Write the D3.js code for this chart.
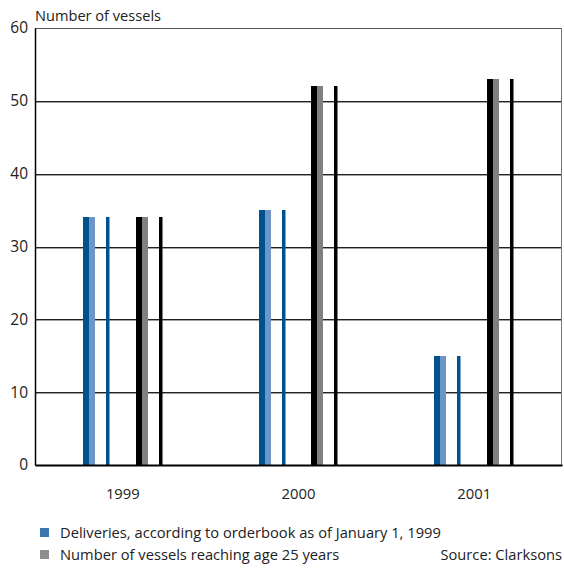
<!DOCTYPE html>
<html>
<head>
<meta charset="utf-8">
<script src="https://cdn.jsdelivr.net/npm/d3@7"></script>
<style>
  html, body { margin: 0; padding: 0; background: #fff; overflow: hidden; }
  svg { display: block; font-family: "Open Sans", "Noto Sans", sans-serif; }
</style>
</head>
<body>
<svg id="chart" width="564" height="568"></svg>
<script>
// Categories and series
const years = ["1999", "2000", "2001"];
const seriesNames = [
  "Deliveries, according to orderbook as of January 1, 1999",
  "Number of vessels reaching age 25 years"
];
const deliveries = [34, 35, 15];
const reachingAge25 = [34, 52, 53];
const yTicks = [0, 10, 20, 30, 40, 50, 60];
const sourceText = "Source: Clarksons";
const yTitle = "Number of vessels";

const values = [deliveries, reachingAge25];

// Styling per series: face colour, side colour, legend colour
const styles = [
  { front: "#00528e", side: "#6f95c6", legend: "#3b76ad" },
  { front: "#000000", side: "#808080", legend: "#8d8d8d" }
];

const W = 564, H = 568;
const margin = { left: 35, top: 28, right: 2, bottom: 103 };
const plotR = W - margin.right, plotB = H - margin.bottom;
const fontFam = "'Open Sans', 'Noto Sans', sans-serif";

const svg = d3.select("#chart");

const x = d3.scaleBand().domain(years).range([margin.left, plotR]).padding(0);
const y = d3.scaleLinear().domain([0, 60]).range([plotB, margin.top]);
// Series offsets within each year band, relative to band centre
const xs = d3.scaleBand().domain(d3.range(seriesNames.length)).range([-40, 40]).paddingInner(0.49);

// Horizontal grid lines: dark line with a grey shadow line below
const gridVals = yTicks.filter(t => t > 0 && t < 60);
const grid = svg.append("g");
grid.selectAll("line.shadow").data(gridVals).join("line")
  .attr("class", "shadow")
  .attr("x1", margin.left).attr("x2", plotR)
  .attr("y1", d => Math.round(y(d)) + 1.5).attr("y2", d => Math.round(y(d)) + 1.5)
  .attr("stroke", "#a0a0a0").attr("stroke-width", 1);
grid.selectAll("line.main").data(gridVals).join("line")
  .attr("class", "main")
  .attr("x1", margin.left).attr("x2", plotR)
  .attr("y1", d => Math.round(y(d)) + 0.5).attr("y2", d => Math.round(y(d)) + 0.5)
  .attr("stroke", "#222").attr("stroke-width", 1);

// Frame: top and right borders
svg.append("line")
  .attr("x1", margin.left).attr("x2", plotR)
  .attr("y1", Math.round(y(60)) + 0.5).attr("y2", Math.round(y(60)) + 0.5)
  .attr("stroke", "#555").attr("stroke-width", 1);
svg.append("line")
  .attr("x1", plotR - 0.5).attr("x2", plotR - 0.5)
  .attr("y1", y(60)).attr("y2", plotB)
  .attr("stroke", "#777").attr("stroke-width", 1);

// Bars: front face, side face and a thin back edge
const segs = [
  { key: "front", x0: 0, w: 6 },
  { key: "side", x0: 6, w: 6 },
  { key: "front", x0: 23, w: 3.5 }
];
const bars = svg.append("g");
years.forEach((yr, i) => {
  values.forEach((vals, s) => {
    const cx = x(yr) + x.bandwidth() / 2;
    const gx = Math.round(cx + xs(s));
    segs.forEach(seg => {
      bars.append("rect")
        .attr("x", gx + seg.x0)
        .attr("y", Math.round(y(vals[i])))
        .attr("width", seg.w)
        .attr("height", plotB - Math.round(y(vals[i])))
        .attr("fill", styles[s][seg.key]);
    });
  });
});

// Axes
const yAxis = d3.axisLeft(y).tickValues(yTicks).tickSize(0).tickPadding(7);
const gy = svg.append("g").attr("transform", `translate(${margin.left},0)`).call(yAxis);
gy.select(".domain").attr("stroke", "#000").attr("stroke-width", 1.5);
gy.selectAll("text").attr("font-size", 15.5).attr("fill", "#222").attr("font-family", fontFam);

const xAxis = d3.axisBottom(x).tickSize(0).tickPadding(23);
const gx = svg.append("g").attr("transform", `translate(0,${plotB})`).call(xAxis);
gx.select(".domain").attr("stroke", "#000").attr("stroke-width", 2);
gx.selectAll("text").attr("font-size", 14.8).attr("fill", "#222").attr("font-family", fontFam);

// Y axis title
svg.append("text").attr("x", 35).attr("y", 21)
  .attr("font-size", 14.6).attr("fill", "#222").text(yTitle);

// Legend
const legend = svg.append("g");
seriesNames.forEach((name, s) => {
  const ly = 533 + s * 22;
  legend.append("rect").attr("x", 40).attr("y", ly - 5).attr("width", 9).attr("height", 9)
    .attr("fill", styles[s].legend);
  legend.append("text").attr("x", 60).attr("y", ly + 5)
    .attr("font-size", 14.7).attr("fill", "#222").text(name);
});
svg.append("text").attr("x", 562).attr("y", 533 + 22 + 5)
  .attr("text-anchor", "end")
  .attr("font-size", 14.7).attr("fill", "#222").text(sourceText);
</script>
</body>
</html>
